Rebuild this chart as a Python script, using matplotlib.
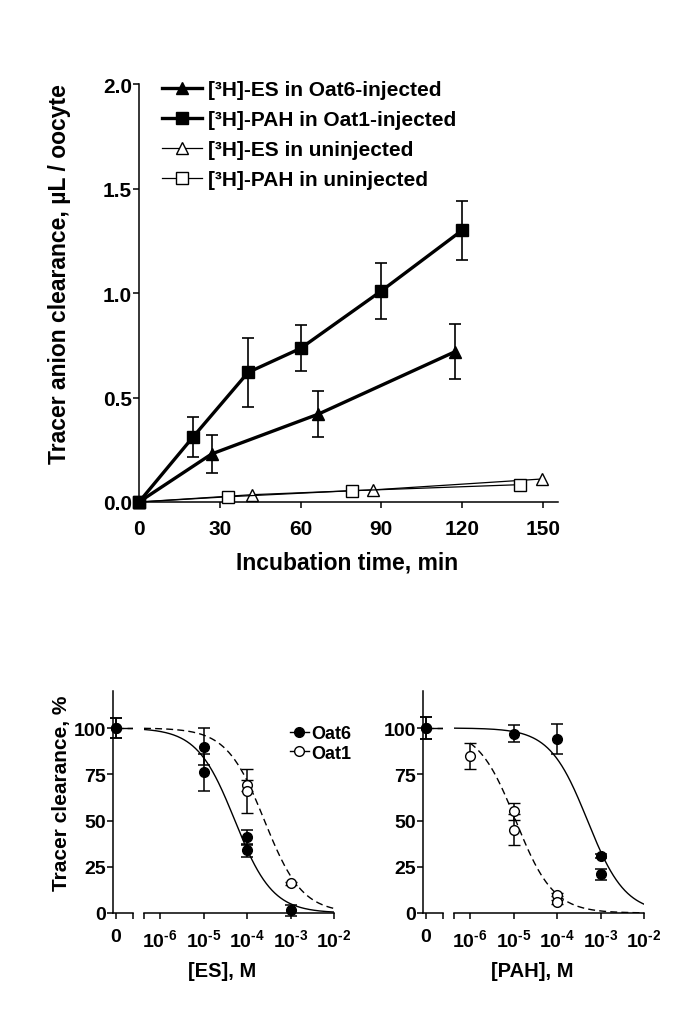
import numpy as np
import matplotlib.pyplot as plt
from matplotlib.lines import Line2D

plt.rcParams['font.family'] = 'Liberation Sans'
plt.rcParams['font.weight'] = 'bold'
plt.rcParams['mathtext.fontset'] = 'custom'
plt.rcParams['mathtext.rm'] = 'Liberation Sans:bold'
plt.rcParams['mathtext.bf'] = 'Liberation Sans:bold'
plt.rcParams['mathtext.default'] = 'bf'
plt.rcParams['axes.linewidth'] = 1.1

# --- time course (top panel) ---
es_oat6_t = [0, 27, 66.5, 117.5]
es_oat6_y = [0, 0.23, 0.42, 0.72]
es_oat6_err = [0, 0.09, 0.11, 0.13]

pah_oat1_t = [0, 20, 40.5, 60, 90, 120]
pah_oat1_y = [0, 0.31, 0.62, 0.735, 1.01, 1.30]
pah_oat1_err = [0, 0.095, 0.165, 0.11, 0.135, 0.14]

es_unin_t = [0, 42, 87, 149.5]
es_unin_y = [0, 0.035, 0.058, 0.11]

pah_unin_t = [0, 33, 79, 141.5]
pah_unin_y = [0, 0.025, 0.054, 0.083]

legend_labels = ['[³H]-ES in Oat6-injected', '[³H]-PAH in Oat1-injected',
                 '[³H]-ES in uninjected', '[³H]-PAH in uninjected']

# --- inhibition (bottom panels), concentration 0 drawn on its own axis segment ---
es_oat6_zero, es_oat6_zero_err = 100, 5.5
es_oat6_conc = [1e-5, 1e-5, 1e-4, 1e-4, 1e-3]
es_oat6_pct = [90, 76, 41, 34, 1.5]
es_oat6_pct_err = [10, 10, 4, 3.5, 3]

es_oat1_zero, es_oat1_zero_err = 100, 5.5
es_oat1_conc = [1e-4, 1e-4, 1e-3]
es_oat1_pct = [69, 66, 16]
es_oat1_pct_err = [3, 12, 1]

pah_oat6_zero, pah_oat6_zero_err = 100, 6
pah_oat6_conc = [1e-5, 1e-4, 1e-3, 1e-3]
pah_oat6_pct = [97, 94, 31, 21]
pah_oat6_pct_err = [4.5, 8, 1, 3]

pah_oat1_zero, pah_oat1_zero_err = 100, 6
pah_oat1_conc = [1e-6, 1e-5, 1e-5, 1e-4, 1e-4]
pah_oat1_pct = [85, 55, 45, 10, 6]
pah_oat1_pct_err = [7, 4.5, 8.5, 1, 1]

# fitted one-site curves: top, bottom, logIC50, hill, log start of curve
es_oat6_fit = (100, 0, -4.28, 1.0, -6.37)
es_oat1_fit = (100, 0, -3.6, 1.0, -6.37)
pah_oat6_fit = (100, 0, -3.3, 1.0, -6.37)
pah_oat1_fit = (100, 0, -4.95, 1.0, -6.0)

conc_ticks = [1e-6, 1e-5, 1e-4, 1e-3, 1e-2]
conc_labels = [r'$10^{\text{-6}}$', r'$10^{\text{-5}}$', r'$10^{\text{-4}}$',
               r'$10^{\text{-3}}$', r'$10^{\text{-2}}$']

W, H = 682, 1012
fig = plt.figure(figsize=(W / 100, H / 100), dpi=100)


def px_axes(x0, y0, x1, y1):
    return fig.add_axes([x0 / W, 1 - y1 / H, (x1 - x0) / W, (y1 - y0) / H])


# ================= top panel =================
ax = px_axes(139, 85, 558, 503)
ax.set_xlim(0, 155.6)
ax.set_ylim(0, 2.0)
for s in ['top', 'right']:
    ax.spines[s].set_visible(False)

ax.errorbar(es_oat6_t, es_oat6_y, yerr=es_oat6_err, fmt='none', ecolor='black',
            elinewidth=1.2, capsize=4.5, capthick=1.2, clip_on=False)
ax.errorbar(pah_oat1_t, pah_oat1_y, yerr=pah_oat1_err, fmt='none', ecolor='black',
            elinewidth=1.2, capsize=4.5, capthick=1.2, clip_on=False)
l1, = ax.plot(es_oat6_t, es_oat6_y, '-^', color='black', lw=2.4, ms=8.5, clip_on=False, zorder=4)
l2, = ax.plot(pah_oat1_t, pah_oat1_y, '-s', color='black', lw=2.4, ms=8, clip_on=False, zorder=4)
l3, = ax.plot(es_unin_t, es_unin_y, '-^', color='black', lw=0.9, ms=8.5, mfc='white',
              mec='black', mew=1.0, clip_on=False, zorder=3)
l4, = ax.plot(pah_unin_t, pah_unin_y, '-s', color='black', lw=0.9, ms=8, mfc='white',
              mec='black', mew=1.0, clip_on=False, zorder=3)

ax.set_xticks([0, 30, 60, 90, 120, 150])
ax.set_yticks([0, 0.5, 1.0, 1.5, 2.0])
ax.set_yticklabels(['0.0', '0.5', '1.0', '1.5', '2.0'])
ax.tick_params(direction='out', length=4, width=1.1, labelsize=15)
ax.tick_params(axis='x', pad=8)
ax.tick_params(axis='y', pad=1)
fig.text(347 / W, 1 - 563 / H, 'Incubation time, min', ha='center', va='center',
         fontsize=16.5, fontweight='bold')
fig.text(60 / W, 1 - 274 / H, 'Tracer anion clearance, µL / oocyte', rotation=90,
         ha='center', va='center', fontsize=16.5, fontweight='bold')

fig.legend([l1, l2, l3, l4], legend_labels, loc='upper left',
           bbox_to_anchor=(162 / W, 1 - 81 / H), bbox_transform=fig.transFigure,
           frameon=False, fontsize=15, handlelength=1.9, handletextpad=0.3,
           labelspacing=0.53, borderpad=0, borderaxespad=0)


# ================= bottom panels =================
def sigmoid(fit, n=200):
    top, bottom, logic50, hill, start = fit
    x = np.logspace(start, -2, n)
    y = bottom + (top - bottom) / (1 + 10 ** ((np.log10(x) - logic50) * hill))
    return x, y


def inhibition_panel(x_off, xlabel, oat6, oat1, fit6, fit1, show_ylabel):
    ax0 = px_axes(113 + x_off, 692, 133 + x_off, 914)
    ax1 = px_axes(144 + x_off, 692, 334 + x_off, 914)
    for a in (ax0, ax1):
        a.set_ylim(0, 120)
        for s in ['top', 'right']:
            a.spines[s].set_visible(False)
        a.tick_params(direction='out', length=4, width=1.1, labelsize=14)
        a.tick_params(axis='x', pad=7, labelsize=14)
        a.tick_params(axis='y', pad=1)
    ax1.spines['left'].set_visible(False)
    ax1.tick_params(axis='y', left=False, labelleft=False)

    ax0.set_xlim(-0.15, 0.85)
    ax0.set_xticks([0, 0.85])
    ax0.set_xticklabels(['0', ''])
    ax0.set_yticks([0, 25, 50, 75, 100])

    # curve tops carried across the zero segment
    ax0.plot([0, 0.85], [fit6[0], fit6[0]], '-', color='black', lw=1.0)
    ax0.plot([0, 0.85], [fit1[0], fit1[0]], '--', color='black', lw=1.0, dashes=(5, 3))

    conc6, pct6, err6, zero6, zerr6 = oat6
    conc1, pct1, err1, zero1, zerr1 = oat1
    ax0.errorbar([0], [zero1], yerr=[zerr1], fmt='o', color='black', mfc='white',
                 ms=7, capsize=4.5, elinewidth=1.1, capthick=1.1, clip_on=False)
    ax0.errorbar([0], [zero6], yerr=[zerr6], fmt='o', color='black',
                 ms=7, capsize=4.5, elinewidth=1.1, capthick=1.1, clip_on=False)

    ax1.set_xscale('log')
    ax1.set_xlim(10 ** -6.37, 1e-2)
    x6, y6 = sigmoid(fit6)
    x1, y1 = sigmoid(fit1)
    ax1.plot(x6, y6, '-', color='black', lw=1.0)
    ax1.plot(x1, y1, '--', color='black', lw=1.0, dashes=(5, 3))
    ax1.errorbar(conc1, pct1, yerr=err1, fmt='o', color='black', mfc='white', mew=1.0,
                 ms=7, capsize=4.5, elinewidth=1.1, capthick=1.1, clip_on=False, zorder=3)
    ax1.errorbar(conc6, pct6, yerr=err6, fmt='o', color='black',
                 ms=7, capsize=4.5, elinewidth=1.1, capthick=1.1, clip_on=False, zorder=4)

    ax1.set_xticks([10 ** -6.37] + conc_ticks)
    ax1.set_xticklabels([''] + conc_labels)
    ax1.minorticks_off()

    fig.text((222 + x_off) / W, 1 - 972 / H, xlabel, ha='center', va='center',
             fontsize=14.5, fontweight='bold')
    if show_ylabel:
        fig.text(62 / W, 1 - 793 / H, 'Tracer clearance, %', rotation=90,
                 ha='center', va='center', fontsize=15, fontweight='bold')
    return ax1


es_oat6 = (es_oat6_conc, es_oat6_pct, es_oat6_pct_err, es_oat6_zero, es_oat6_zero_err)
es_oat1 = (es_oat1_conc, es_oat1_pct, es_oat1_pct_err, es_oat1_zero, es_oat1_zero_err)
pah_oat6 = (pah_oat6_conc, pah_oat6_pct, pah_oat6_pct_err, pah_oat6_zero, pah_oat6_zero_err)
pah_oat1 = (pah_oat1_conc, pah_oat1_pct, pah_oat1_pct_err, pah_oat1_zero, pah_oat1_zero_err)

inhibition_panel(0, '[ES], M', es_oat6, es_oat1, es_oat6_fit, es_oat1_fit, True)
inhibition_panel(310, '[PAH], M', pah_oat6, pah_oat1, pah_oat6_fit, pah_oat1_fit, False)

h6 = Line2D([], [], color='black', lw=1.0, marker='o', ms=7)
h1 = Line2D([], [], color='black', lw=1.0, marker='o', ms=7, mfc='white')
fig.legend([h6, h1], ['Oat6', 'Oat1'], loc='upper left',
           bbox_to_anchor=(290 / W, 1 - 726 / H), bbox_transform=fig.transFigure,
           frameon=False, fontsize=13, handlelength=1.05, handletextpad=0.1,
           labelspacing=0.15, borderpad=0, borderaxespad=0)

fig.savefig('out.png', dpi=100)
